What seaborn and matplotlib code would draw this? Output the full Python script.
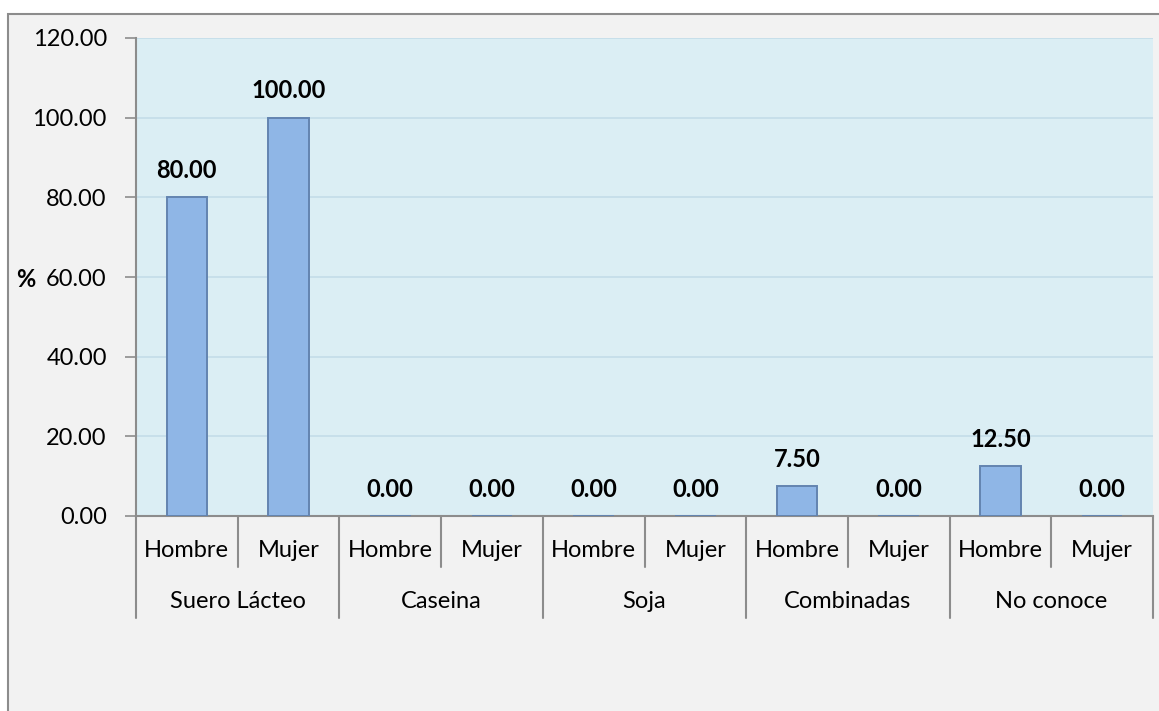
import matplotlib
matplotlib.use("Agg")
import matplotlib.pyplot as plt
import matplotlib.patches as mpatches
import matplotlib.transforms as mtransforms
import seaborn as sns
import pandas as pd

groups = ["Suero Lácteo", "Caseina", "Soja", "Combinadas", "No conoce"]
sexes = ["Hombre", "Mujer"]
hombre = [80.00, 0.00, 0.00, 7.50, 12.50]
mujer = [100.00, 0.00, 0.00, 0.00, 0.00]
yticks = [0, 20, 40, 60, 80, 100, 120]

rows = []
for g, h, m in zip(groups, hombre, mujer):
    rows.append({"key": g + "|Hombre", "grupo": g, "sexo": "Hombre", "valor": h})
    rows.append({"key": g + "|Mujer", "grupo": g, "sexo": "Mujer", "valor": m})
df = pd.DataFrame(rows)
order = list(df["key"])

sns.set_theme(style="white")
plt.rcParams["font.family"] = ["Lato", "DejaVu Sans"]

FS = 17
W, H = 1159, 711
fig = plt.figure(figsize=(W / 100, H / 100), dpi=100, facecolor="white")
# outer chart frame
fig.patches.append(mpatches.Rectangle((8 / W, -0.1), 2, (H - 14) / H + 0.1,
                                      transform=fig.transFigure, facecolor="#f2f2f2",
                                      edgecolor="#8c8c8c", linewidth=1.5, zorder=-5))
ax = fig.add_axes([136 / W, 1 - 516 / H, (1153 - 136) / W, (516 - 38) / H])
ax.set_facecolor("#dbeef4")

sns.barplot(data=df, x="key", y="valor", order=order, color="#8fb6e6",
            width=0.4, edgecolor="#6384b0", linewidth=1.4, saturation=1,
            errorbar=None, ax=ax, zorder=3)

ax.set_ylim(0, 120)
ax.set_xlim(-0.5, len(order) - 0.5)
ax.set_yticks(yticks)
ax.set_yticklabels([f"{v:.2f}" for v in yticks], fontsize=FS, color="black")
ax.yaxis.grid(True, color="#c3dde8", linewidth=1.2, zorder=0)
ax.set_axisbelow(True)
ax.tick_params(axis="y", which="both", left=True, length=8, width=1.2,
               color="#8c8c8c", pad=13)
ax.set_xticks([])
ax.set_xlabel("")
ax.set_ylabel("")
for s in ["top", "right"]:
    ax.spines[s].set_visible(False)
for s in ["left", "bottom"]:
    ax.spines[s].set_color("#8c8c8c")
    ax.spines[s].set_linewidth(1.5)

# data labels
for i, v in enumerate(df["valor"]):
    ax.annotate(f"{v:.2f}", (i, v), xytext=(0, 11), textcoords="offset points",
                ha="center", va="bottom", fontsize=FS, fontweight="bold", color="black")

# two-level category axis
trans = mtransforms.blended_transform_factory(ax.transData, ax.transAxes)
for i, s in enumerate(df["sexo"]):
    ax.text(i, -0.073, s, transform=trans, ha="center", va="center",
            fontsize=FS, color="black", clip_on=False)
for gi, g in enumerate(groups):
    ax.text(gi * 2 + 0.5, -0.178, g, transform=trans, ha="center", va="center",
            fontsize=FS, color="black", clip_on=False)
for b in range(len(order) + 1):
    xb = b - 0.5
    bottom = -0.213 if b % 2 == 0 else -0.107
    ax.plot([xb, xb], [0, bottom], transform=trans, color="#8c8c8c",
            linewidth=1.5, clip_on=False)

fig.text(16 / W, 1 - 280 / H, "%", ha="left", va="center", fontsize=FS,
         fontweight="bold", color="black")

fig.savefig("out.png", dpi=100, facecolor="white")
